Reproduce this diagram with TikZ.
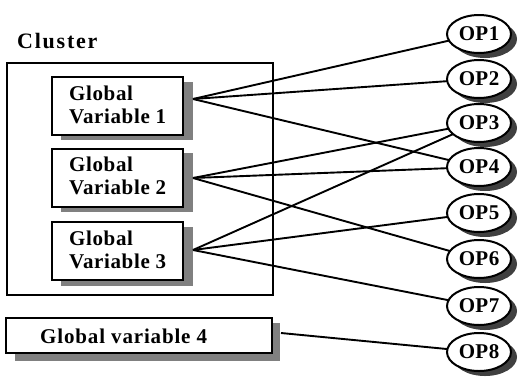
\documentclass[tikz,border=0pt]{standalone}
\usepackage{fontspec}
\setmainfont{Liberation Serif}
\usetikzlibrary{shapes.geometric}
\begin{document}
\begin{tikzpicture}[x=1pt,y=-1pt,
  frame/.style={draw, line width=2pt},
  gvbox/.style={draw, line width=2pt, fill=white, minimum width=131pt, minimum height=58pt, inner sep=0pt},
  gvshadow/.style={fill=black!50, draw=none},
  gvtext/.style={anchor=west, align=left, inner sep=0pt, font=\bfseries\fontsize{21}{23}\selectfont\addfontfeature{LetterSpace=3}},
  opnode/.style={ellipse, draw, line width=2pt, fill=white, minimum width=64pt, minimum height=38pt, inner sep=0pt, font=\bfseries\fontsize{21}{21}\selectfont\addfontfeature{LetterSpace=2}},
  opshadow/.style={ellipse, fill=black!75, draw=none, minimum width=64pt, minimum height=38pt, inner sep=0pt},
  link/.style={line width=1.9pt}
]
\useasboundingbox (0,0) rectangle (518,383);
\fill[white] (0,0) rectangle (518,383);

% title and cluster frame
\node[anchor=base west, inner sep=0pt, font=\bfseries\fontsize{22}{22}\selectfont\addfontfeature{LetterSpace=8}] (title) at (17,48) {Cluster};
\draw[frame] (7,63) rectangle (273,295);

% shadows of the variable boxes
\fill[gvshadow] (61,82) rectangle (193,140);
\fill[gvshadow] (61,153) rectangle (193,212);
\fill[gvshadow] (61,227) rectangle (193,286);
\fill[gvshadow] (15,323) rectangle (280,361);

% variable boxes
\node[gvbox] (gv1) at (117.5,106) {};
\node[gvbox] (gv2) at (117.5,177.5) {};
\node[gvbox] (gv3) at (117.5,251) {};
\node[gvbox, minimum width=266pt, minimum height=35pt] (gv4) at (139,335.5) {};

\node[gvtext] (t1) at (69,105) {Global\\Variable 1};
\node[gvtext] (t2) at (69,176) {Global\\Variable 2};
\node[gvtext] (t3) at (69,250) {Global\\Variable 3};
\node[gvtext, font=\bfseries\fontsize{21}{23}\selectfont\addfontfeature{LetterSpace=4}] (t4) at (40,336) {Global variable 4};

% connection points at the shadow edges
\coordinate (g1) at (193,99);
\coordinate (g2) at (193,178);
\coordinate (g3) at (193,250);
\coordinate (g4) at (281,333);

% ellipse shadows
\foreach \y [count=\i] in {34,79,123,167,213,259,306,352}{
  \node[opshadow] (s\i) at (485,\y+5) {};
}

% links
\draw[link] (g1) -- (478,34);
\draw[link] (g1) -- (478,79);
\draw[link] (g1) -- (478,167);
\draw[link] (g2) -- (478,123);
\draw[link] (g2) -- (478,167);
\draw[link] (g2) -- (478,259);
\draw[link] (g3) -- (478,123);
\draw[link] (g3) -- (478,213);
\draw[link] (g3) -- (478,306);
\draw[link] (g4) -- (478,352);

% OP ellipses
\node[opnode] (op1) at (479,34) {OP1};
\node[opnode] (op2) at (479,79) {OP2};
\node[opnode] (op3) at (479,123) {OP3};
\node[opnode] (op4) at (479,167) {OP4};
\node[opnode] (op5) at (479,213) {OP5};
\node[opnode] (op6) at (479,259) {OP6};
\node[opnode] (op7) at (479,306) {OP7};
\node[opnode] (op8) at (479,352) {OP8};
\end{tikzpicture}
\end{document}
